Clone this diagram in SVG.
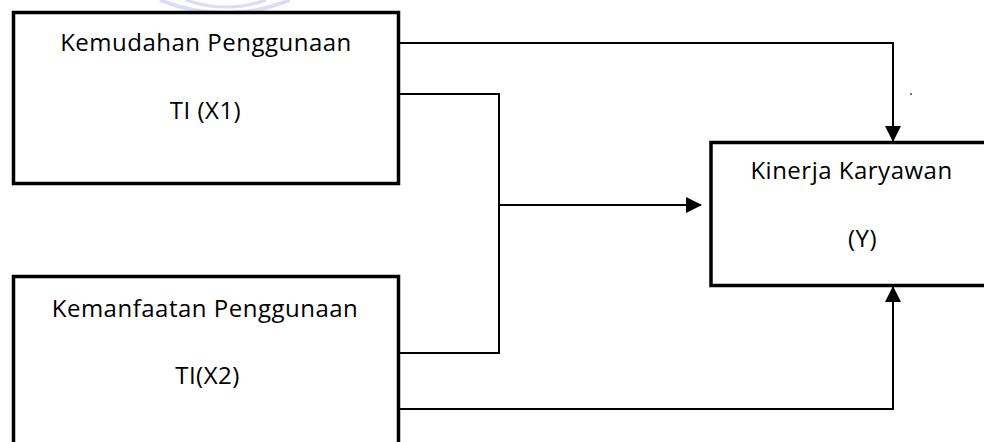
<svg xmlns="http://www.w3.org/2000/svg" width="984" height="442" viewBox="0 0 984 442">
  <style>
    .box { fill: #ffffff; stroke: #000000; stroke-width: 3.5; }
    .lbl { font-family: "Open Sans", "Noto Sans", sans-serif; font-size: 24px; letter-spacing: 0.5px; fill: #000000; text-anchor: middle; }
    .wire { fill: none; stroke: #000000; stroke-width: 2; }
    .mark { fill: none; stroke: #dcdcf6; }
  </style>
  <defs>
    <marker id="head" markerUnits="userSpaceOnUse" markerWidth="16" markerHeight="16" viewBox="0 0 16 16" refX="15" refY="8" orient="auto">
      <path d="M0,0 L16,8 L0,16 Z" fill="#000000"/>
    </marker>
  </defs>

  <rect width="984" height="442" fill="#ffffff"/>

  <!-- faint background emblem at the top edge -->
  <g id="emblem">
    <path class="mark" stroke-width="4" d="M160,0 A169,169 0 0 0 290,0"/>
    <path class="mark" stroke-width="3" stroke="#ebebfa" d="M186,0 A120,120 0 0 0 266,0"/>
  </g>

  <!-- connectors -->
  <g id="connectors">
    <!-- X1 straight to Y (top) -->
    <path class="wire" d="M400,43 H893 V141" marker-end="url(#head)"/>
    <!-- X1 and X2 joined, then to Y (side) -->
    <path class="wire" d="M400,94 H499 V353 H400"/>
    <path class="wire" d="M499,205 H701" marker-end="url(#head)"/>
    <!-- X2 straight to Y (bottom) -->
    <path class="wire" d="M400,409 H893 V287" marker-end="url(#head)"/>
  </g>

  <g id="node-x1">
    <rect class="box" x="13.5" y="12.5" width="385" height="171"/>
    <text class="lbl" x="206" y="51">Kemudahan Penggunaan</text>
    <text class="lbl" x="205.5" y="119">TI (X1)</text>
  </g>

  <g id="node-x2">
    <rect class="box" x="13.5" y="276.5" width="385" height="200"/>
    <text class="lbl" x="205" y="317">Kemanfaatan Penggunaan</text>
    <text class="lbl" x="207.5" y="384">TI(X2)</text>
  </g>

  <g id="node-y">
    <rect class="box" x="711" y="142.5" width="300" height="143"/>
    <text class="lbl" x="851.5" y="178.5">Kinerja Karyawan</text>
    <text class="lbl" x="862.5" y="247">(Y)</text>
  </g>

  <circle cx="911" cy="94" r="0.9" fill="#333333"/>
</svg>
